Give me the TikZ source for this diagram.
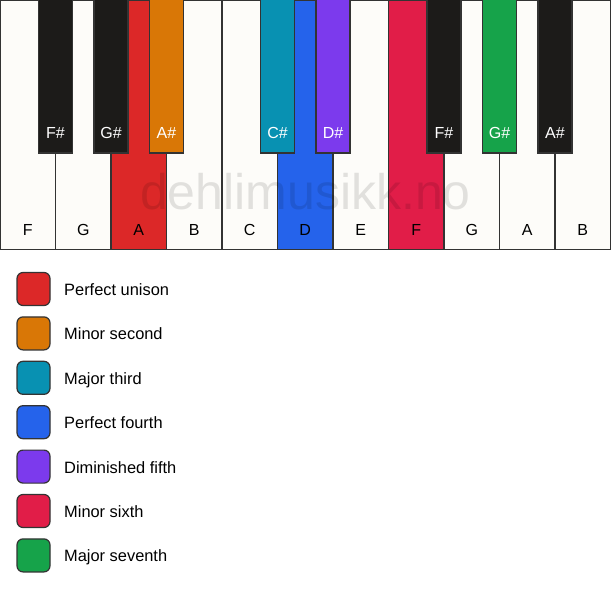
\documentclass[tikz,border=0pt]{standalone}
\usepackage{fontspec}
\setmainfont{Liberation Sans}
\definecolor{cred}{HTML}{DC2828}
\definecolor{corange}{HTML}{D97706}
\definecolor{cteal}{HTML}{0891B2}
\definecolor{cblue}{HTML}{2563EB}
\definecolor{cpurple}{HTML}{7C3AED}
\definecolor{ccrimson}{HTML}{E11D48}
\definecolor{cgreen}{HTML}{16A34A}
\definecolor{cblack}{HTML}{1C1B19}
\definecolor{cwhite}{HTML}{FDFCF9}
\definecolor{cline}{HTML}{333333}
\begin{document}
\begin{tikzpicture}[x=1pt,y=-1pt,
  whitekey/.style={draw=cline,line width=1.2pt,fill=cwhite},
  blackkey/.style={draw=cline,line width=1.2pt,fill=cblack},
  wlabel/.style={font=\fontsize{16}{16}\selectfont,text=black,inner sep=0pt,anchor=base},
  blabel/.style={font=\fontsize{16}{16}\selectfont,text=white,inner sep=0pt,anchor=base},
  legbox/.style={draw=cline,line width=1.2pt,rounded corners=6pt,minimum width=33pt,minimum height=33pt,inner sep=0pt},
  legtext/.style={font=\fontsize{16.4}{16.4}\selectfont,anchor=base west,inner sep=0pt}]
\useasboundingbox (0,0) rectangle (611,594);
\fill[white] (0,0) rectangle (611,594);
% white keys
\foreach \i/\n/\c in {0/F/cwhite,1/G/cwhite,2/A/cred,3/B/cwhite,4/C/cwhite,5/D/cblue,6/E/cwhite,7/F/ccrimson,8/G/cwhite,9/A/cwhite,10/B/cwhite}{
  \draw[whitekey,fill=\c] ({55.5*\i},0) rectangle ({55.5*(\i+1)},249.5);
  \node[wlabel] (w\i) at ({55.5*\i+27.75},235.5) {\n};
}
% watermark
\node[font=\fontsize{50}{50}\selectfont,text=black,text opacity=0.11,inner sep=0pt] (wm) at (305.5,192) {dehlimusikk.no};
% black keys
\foreach \i/\n/\c in {1/F\#/cblack,2/G\#/cblack,3/A\#/corange,5/C\#/cteal,6/D\#/cpurple,8/F\#/cblack,9/G\#/cgreen,10/A\#/cblack}{
  \draw[blackkey,fill=\c] ({55.5*\i-17},-1) rectangle ({55.5*\i+17},153);
  \node[blabel] (b\i) at ({55.5*\i},138.5) {\n};
}
% legend
\foreach \k/\c/\t in {0/cred/Perfect unison,1/corange/Minor second,2/cteal/Major third,3/cblue/Perfect fourth,4/cpurple/Diminished fifth,5/ccrimson/Minor sixth,6/cgreen/Major seventh}{
  \node[legbox,fill=\c] (l\k) at (33.5,{289+44.4*\k}) {};
  \node[legtext] (t\k) at (64,{295.5+44.4*\k}) {\t};
}
\end{tikzpicture}
\end{document}
